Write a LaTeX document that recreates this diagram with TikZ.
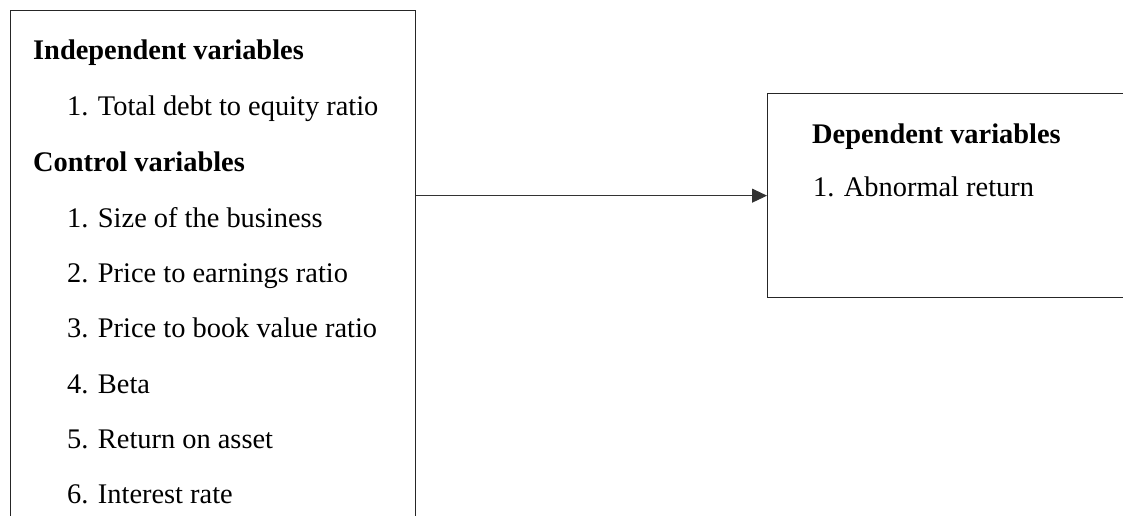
\documentclass[tikz,border=0pt]{standalone}
\usepackage{fontspec}
\setmainfont{Liberation Serif}
\usetikzlibrary{arrows.meta}
\begin{document}
\begin{tikzpicture}[x=1pt,y=-1pt,
  box/.style={draw=black!85, line width=1.3pt, inner sep=0pt},
  head/.style={anchor=base west, inner sep=0pt, font=\fontsize{28.4}{34}\selectfont\bfseries},
  item/.style={anchor=base west, inner sep=0pt, font=\fontsize{28.4}{34}\selectfont},
  link/.style={draw=black!80, line width=1pt, -{Triangle[length=15pt,width=14pt]}}]
\useasboundingbox (0,0) rectangle (1123,516);
\clip (0,0) rectangle (1123,516);
% boxes (left box open at the bottom, right box open at the right)
\node[box, minimum width=404.5pt, minimum height=560pt, anchor=north west] (L) at (10,10) {};
\node[box, minimum width=400pt, minimum height=204pt, anchor=north west] (R) at (767,93) {};
% left texts
\node[head] (h1) at (33,60) {Independent variables};
\node[item] (i1) at (67,115) {1. Total debt to equity ratio};
\node[head] (h2) at (33,171) {Control variables};
\node[item] (c1) at (67,227) {1. Size of the business};
\node[item] (c2) at (67,282) {2. Price to earnings ratio};
\node[item] (c3) at (67,337) {3. Price to book value ratio};
\node[item] (c4) at (67,393) {4. Beta};
\node[item] (c5) at (67,448) {5. Return on asset};
\node[item] (c6) at (67,503) {6. Interest rate};
% right texts
\node[head] (h3) at (812,143) {Dependent variables};
\node[item] (d1) at (813,196) {1. Abnormal return};
% connector
\draw[link] (L.east |- R.west) -- (R.west);
\end{tikzpicture}
\end{document}
